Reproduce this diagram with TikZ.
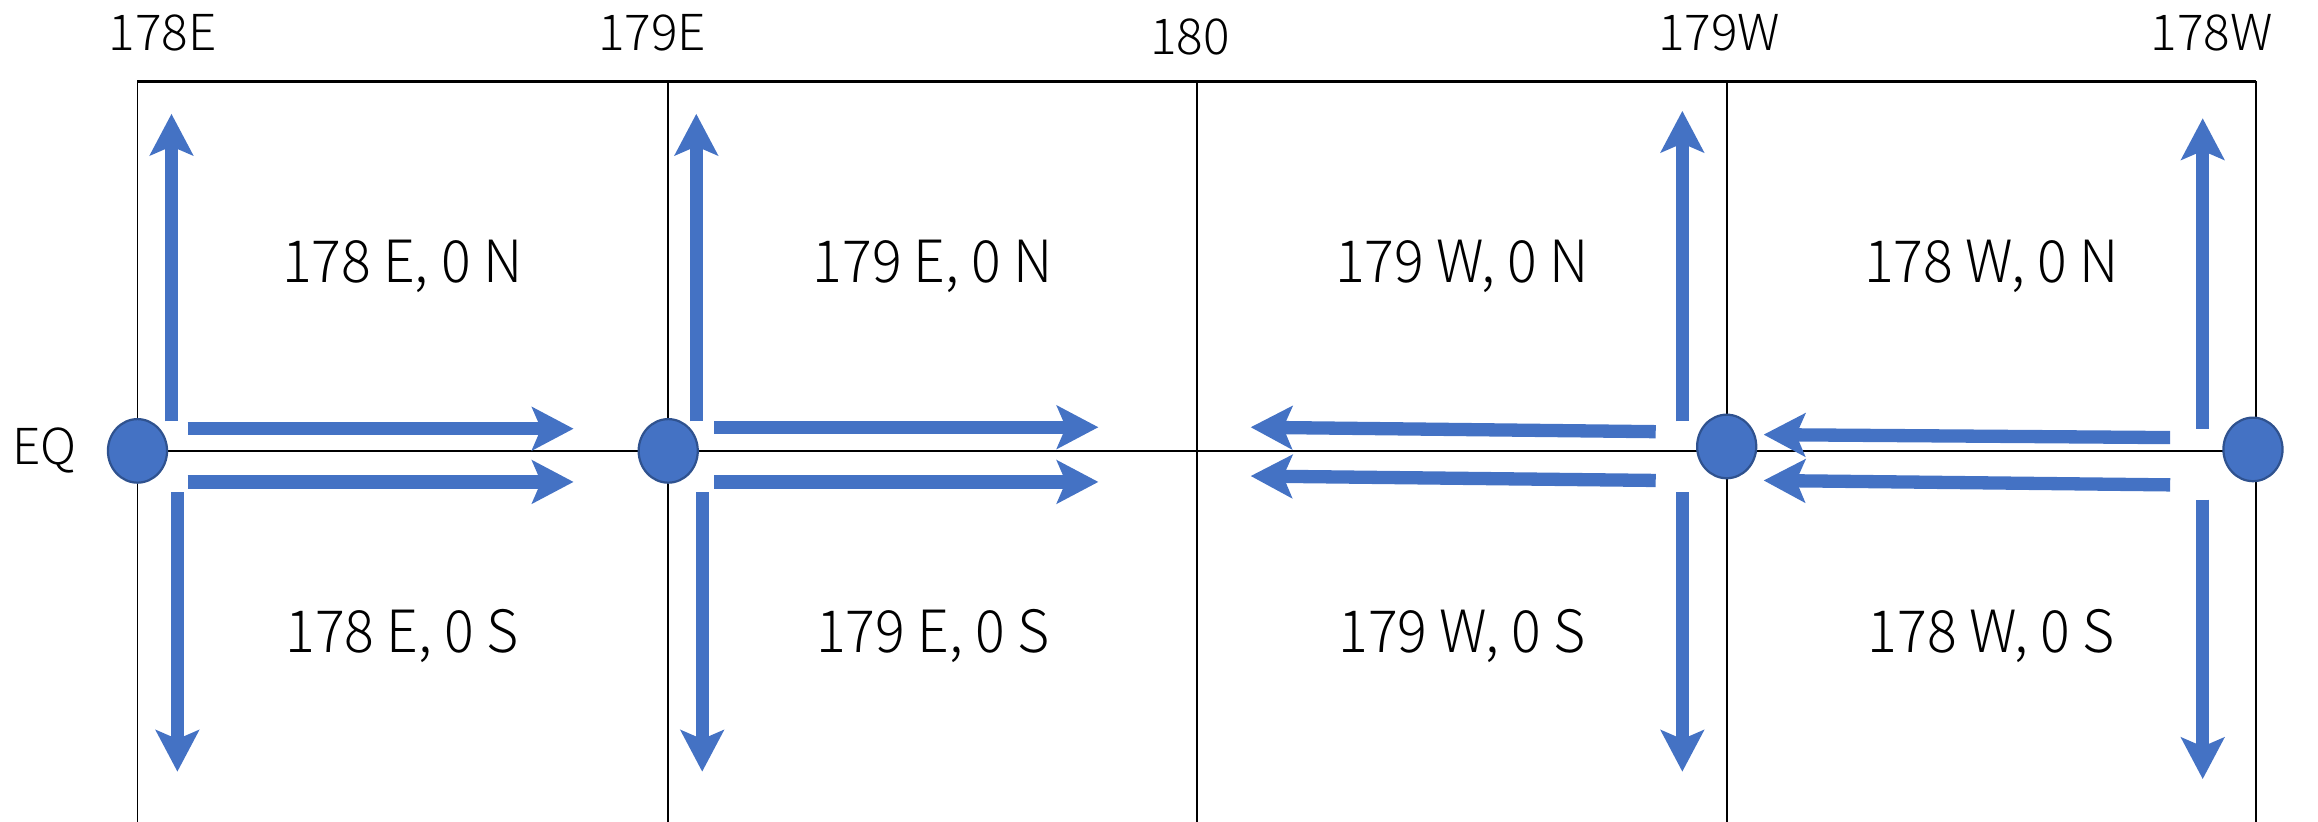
\documentclass[tikz,border=0pt]{standalone}
\usepackage{fontspec}
\setmainfont{Noto Sans CJK JP}[UprightFont=* Light]
\usetikzlibrary{arrows.meta,shapes.geometric}
\definecolor{arrowblue}{HTML}{4472C4}
\definecolor{dotedge}{HTML}{2F528F}
\tikzset{
  grid/.style={draw=black, line width=1.3pt},
  frame/.style={draw=black, line width=1.8pt},
  flow/.style={draw=arrowblue, line width=9pt,
    -{Stealth[length=28pt, width=29pt, inset=6pt, color=arrowblue]}},
  dot/.style={ellipse, fill=arrowblue, draw=dotedge, line width=1.5pt,
    minimum width=40pt, minimum height=43pt, inner sep=0pt},
  lonlab/.style={font=\fontsize{33.5}{36}\selectfont, inner sep=0pt},
  cell/.style={font=\fontsize{37.5}{40}\selectfont, inner sep=0pt, yscale=1.05}
}
\begin{document}
\begin{tikzpicture}[x=1pt, y=-1pt]
\useasboundingbox (0,0) rectangle (1568,556);
% grid lines
\foreach \xx/\nm in {93/a,452/b,810/c,1168/d,1526/e}{
  \coordinate (t\nm) at (\xx,55);
  \coordinate (b\nm) at (\xx,556);
  \coordinate (m\nm) at (\xx,305);
  \draw[grid] (t\nm) -- (b\nm);
}
\draw[frame] (ta) -- (te);
\draw[frame] (ma) -- (me);
% circles
\node[dot] (d1) at (93,305) {};
\node[dot] (d2) at (452,305) {};
\node[dot] (d4) at (1168,302) {};
\node[dot] (d5) at (1524,304) {};
% labels
\node[lonlab] (l1) at (110,22) {178E};
\node[lonlab] (l2) at (441,22) {179E};
\node[lonlab] (l3) at (805,25) {180};
\node[lonlab] (l4) at (1163,22) {179W};
\node[lonlab] (l5) at (1496,22) {178W};
\node[lonlab] (eq) at (30,305) {EQ};
\node[cell] (c1) at (272,180) {178 E, 0 N};
\node[cell] (c2) at (631,180) {179 E, 0 N};
\node[cell] (c3) at (989,180) {179 W, 0 N};
\node[cell] (c4) at (1347,180) {178 W, 0 N};
\node[cell] (s1) at (272,430) {178 E, 0 S};
\node[cell] (s2) at (631,430) {179 E, 0 S};
\node[cell] (s3) at (989,430) {179 W, 0 S};
\node[cell] (s4) at (1347,430) {178 W, 0 S};
% arrow end points
\coordinate (a1u0) at (116,285); \coordinate (a1u1) at (116,77);
\coordinate (a1r0) at (127,290); \coordinate (a1r1) at (388,290);
\coordinate (a1s0) at (127,326); \coordinate (a1s1) at (388,326);
\coordinate (a1d0) at (120,333); \coordinate (a1d1) at (120,522);
\coordinate (a2u0) at (471,285); \coordinate (a2u1) at (471,77);
\coordinate (a2r0) at (483,289); \coordinate (a2r1) at (743,289);
\coordinate (a2s0) at (483,326); \coordinate (a2s1) at (743,326);
\coordinate (a2d0) at (475,333); \coordinate (a2d1) at (475,522);
\coordinate (a3u0) at (1138,285); \coordinate (a3u1) at (1138,75);
\coordinate (a3r0) at (1120,292); \coordinate (a3r1) at (846,289);
\coordinate (a3s0) at (1120,325); \coordinate (a3s1) at (846,322);
\coordinate (a3d0) at (1138,333); \coordinate (a3d1) at (1138,522);
\coordinate (a4u0) at (1490,290); \coordinate (a4u1) at (1490,80);
\coordinate (a4r0) at (1468,296); \coordinate (a4r1) at (1193,294);
\coordinate (a4s0) at (1468,328); \coordinate (a4s1) at (1193,325);
\coordinate (a4d0) at (1490,338); \coordinate (a4d1) at (1490,527);
\foreach \k in {1,2,3,4}{
  \foreach \d in {u,r,s,d}{
    \draw[flow] (a\k\d0) -- (a\k\d1);
  }
}
\end{tikzpicture}
\end{document}
